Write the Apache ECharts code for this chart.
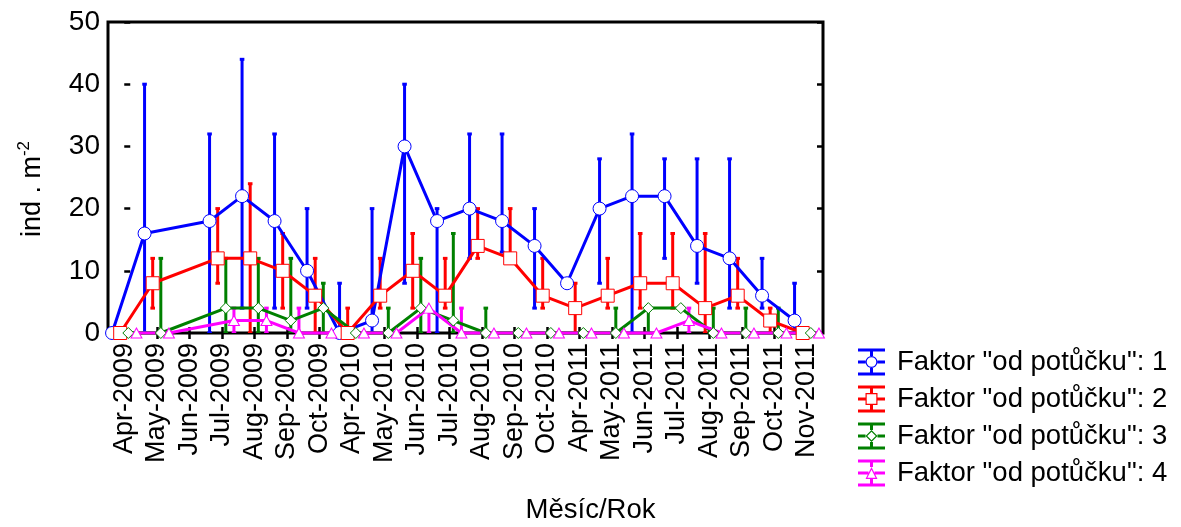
<!DOCTYPE html>
<html>
<head>
<meta charset="utf-8">
<script src="https://cdn.jsdelivr.net/npm/echarts@6/dist/echarts.min.js"></script>
<style>
  html, body { margin: 0; padding: 0; background: #ffffff; }
  #chart { width: 1181px; height: 527px; }
</style>
</head>
<body>
<div id="chart"></div>
<script>
// Sampling months (category axis)
const months = ['Apr-2009', 'May-2009', 'Jun-2009', 'Jul-2009', 'Aug-2009', 'Sep-2009', 'Oct-2009',
  'Apr-2010', 'May-2010', 'Jun-2010', 'Jul-2010', 'Aug-2010', 'Sep-2010', 'Oct-2010',
  'Apr-2011', 'May-2011', 'Jun-2011', 'Jul-2011', 'Aug-2011', 'Sep-2011', 'Oct-2011', 'Nov-2011'];

// Value axis range
const yMin = 0;
const yMax = 50;
const yStep = 10;

const factorNames = ['Faktor "od potůčku": 1', 'Faktor "od potůčku": 2',
  'Faktor "od potůčku": 3', 'Faktor "od potůčku": 4'];

// Factor level 1: point value and whisker ends (ind . m-2), null = no sample
const mean1 = [0, 16, null, 18, 22, 18, 10, 0, 2, 30, 18, 20, 18, 14, 8, 20, 22, 22, 14, 12, 6, 2];
const low1  = [0, 0, null, 0, 4, 4, 4, 0, 0, 8, 0, 12, 13, 4, 8, 8, 0, 12, 8, 4, 4, 0];
const high1 = [0, 40, null, 32, 44, 32, 20, 8, 20, 40, 20, 32, 32, 20, 8, 28, 32, 28, 28, 28, 12, 8];

// Factor level 2
const mean2 = [0, 8, null, 12, 12, 10, 6, 0, 6, 10, 6, 14, 12, 6, 4, 6, 8, 8, 4, 6, 2, 0];
const low2  = [0, 4, null, 8, 0, 4, 0, 0, 4, 4, 4, 12, 12, 4, 0, 4, 4, 4, 0, 4, 0, 0];
const high2 = [0, 12, null, 20, 24, 16, 12, 4, 12, 16, 12, 20, 20, 12, 8, 12, 16, 16, 16, 12, 4, 0];

// Factor level 3
const mean3 = [0, 0, null, 4, 4, 2, 4, 0, 0, 4, 2, 0, 0, 0, 0, 0, 4, 4, 0, 0, 0, 0];
const low3  = [0, 0, null, 0, 0, 0, 0, 0, 0, 0, 0, 0, 0, 0, 0, 0, 0, 4, 0, 0, 0, 0];
const high3 = [0, 12, null, 12, 12, 12, 8, 0, 4, 12, 16, 4, 0, 0, 0, 4, 4, 4, 4, 4, 4, 0];

// Factor level 4
const mean4 = [0, 0, null, 2, 2, 0, 0, 0, 0, 4, 0, 0, 0, 0, 0, 0, 0, 2, 0, 0, 0, 0];
const low4  = [0, 0, null, 0, 0, 0, 0, 0, 0, 0, 0, 0, 0, 0, 0, 0, 0, 0, 0, 0, 0, 0];
const high4 = [0, 0, null, 4, 4, 4, 0, 0, 0, 4, 4, 0, 0, 0, 0, 0, 0, 4, 0, 0, 0, 0];

const levels = [
  { mean: mean1, low: low1, high: high1 },
  { mean: mean2, low: low2, high: high2 },
  { mean: mean3, low: low3, high: high3 },
  { mean: mean4, low: low4, high: high4 }
];

const colors = ['#0000ff', '#ff0000', '#008000', '#ff00ff'];
const symbols = ['circle', 'rect', 'diamond', 'triangle'];
const symbolSizes = [13, 13, [11, 11], [11, 10]];
// horizontal shift of each factor level inside its month slot
const shifts = [-0.375, -0.125, 0.125, 0.375];

const FONT = '"Liberation Sans", Arial, Helvetica, sans-serif';

// ---- legend glyphs: whisker bar with caps and an open marker ----
function box(x, y, w, h) { return 'M' + x + ' ' + y + 'h' + w + 'v' + h + 'h' + (-w) + 'Z'; }
function hole(x, y, w, h) { return 'M' + x + ' ' + y + 'v' + h + 'h' + w + 'v' + (-h) + 'Z'; }
function legendGlyph(kind) {
  let p = box(0, 0, 27, 3) + box(0, 24, 27, 3);
  if (kind === 'circle') {
    p += box(12, 3, 3, 4.5) + box(12, 19.5, 3, 4.5) + box(0, 12, 7.5, 3) + box(19.5, 12, 7.5, 3);
    p += 'M7.5 13.5A6 6 0 1 1 19.5 13.5A6 6 0 1 1 7.5 13.5Z';
    p += 'M8.7 13.5A4.8 4.8 0 1 0 18.3 13.5A4.8 4.8 0 1 0 8.7 13.5Z';
  } else if (kind === 'rect') {
    p += box(12, 3, 3, 4.5) + box(12, 19.5, 3, 4.5) + box(0, 12, 7.5, 3) + box(19.5, 12, 7.5, 3);
    p += box(7.5, 7.5, 12, 12) + hole(8.7, 8.7, 9.6, 9.6);
  } else if (kind === 'diamond') {
    p += box(12, 3, 3, 4.5) + box(12, 19.5, 3, 4.5) + box(0, 12, 7.5, 3) + box(19.5, 12, 7.5, 3);
    p += 'M13.5 7.5L19.5 13.5L13.5 19.5L7.5 13.5Z';
    p += 'M13.5 9.2L9.2 13.5L13.5 17.8L17.8 13.5Z';
  } else {
    p += box(12, 3, 3, 4.5) + box(12, 19.5, 3, 4.5) + box(0, 12, 10.5, 3) + box(16.5, 12, 10.5, 3);
    p += 'M13.5 7.5L19.5 19.5L7.5 19.5Z';
    p += 'M13.5 10.2L9.4 18.3L17.6 18.3Z';
  }
  return 'path://' + p;
}

// ---- whisker renderer ----
function whiskerRenderer(color) {
  return function (params, api) {
    const x = api.value(0);
    const top = api.coord([x, api.value(2)]);
    const bot = api.coord([x, api.value(1)]);
    const cap = 2.3;
    const style = { stroke: color, lineWidth: 3 };
    return {
      type: 'group',
      children: [
        { type: 'line', shape: { x1: bot[0], y1: bot[1], x2: top[0], y2: top[1] }, style: style },
        { type: 'line', shape: { x1: top[0] - cap, y1: top[1], x2: top[0] + cap, y2: top[1] }, style: style },
        { type: 'line', shape: { x1: bot[0] - cap, y1: bot[1], x2: bot[0] + cap, y2: bot[1] }, style: style }
      ]
    };
  };
}

const series = [];
levels.forEach(function (lv, k) {
  const bars = [];
  lv.mean.forEach(function (m, i) {
    if (m === null) return;
    if (lv.high[i] > lv.low[i]) bars.push([i + shifts[k], lv.low[i], lv.high[i]]);
  });
  series.push({
    type: 'custom',
    name: factorNames[k],
    xAxisIndex: 2,
    yAxisIndex: 0,
    z: 2,
    silent: true,
    clip: true,
    renderItem: whiskerRenderer(colors[k]),
    encode: { x: 0, y: [1, 2] },
    data: bars
  });
});
levels.forEach(function (lv, k) {
  const pts = [];
  lv.mean.forEach(function (m, i) {
    if (m !== null) pts.push([i + shifts[k], m]);
  });
  series.push({
    type: 'line',
    name: factorNames[k],
    xAxisIndex: 2,
    yAxisIndex: 0,
    z: 3,
    silent: true,
    connectNulls: true,
    symbol: symbols[k],
    symbolSize: symbolSizes[k],
    showAllSymbol: true,
    clip: false,
    lineStyle: { color: colors[k], width: 3 },
    itemStyle: { color: '#ffffff', borderColor: colors[k], borderWidth: 1 },
    emphasis: { disabled: true },
    data: pts
  });
});

const tickStyle = { show: true, inside: true, length: 6, lineStyle: { color: '#000', width: 2.5 } };

const option = {
  animation: false,
  backgroundColor: '#ffffff',
  textStyle: { fontFamily: FONT },
  title: {
    text: 'Měsíc/Rok',
    left: 'center',
    top: 496,
    padding: 0,
    textStyle: { fontFamily: FONT, fontSize: 27.5, fontWeight: 'normal', color: '#000' }
  },
  grid: {
    left: 108, right: 358, top: 22, bottom: 194,
    show: true, borderColor: '#000', borderWidth: 3, backgroundColor: 'transparent',
    outerBoundsMode: 'none'
  },
  legend: {
    orient: 'vertical',
    left: 858,
    top: 348,
    padding: 0,
    itemWidth: 27,
    itemHeight: 27,
    itemGap: 9,
    selectedMode: false,
    textStyle: { fontFamily: FONT, fontSize: 27.5, color: '#000', padding: [0, 0, 0, 7] },
    data: factorNames.map(function (n, k) {
      return { name: n, icon: legendGlyph(symbols[k]), itemStyle: { color: colors[k], borderWidth: 0 } };
    })
  },
  xAxis: [
    {
      type: 'category',
      position: 'bottom',
      data: months,
      boundaryGap: true,
      axisLine: { show: false },
      axisTick: Object.assign({ alignWithLabel: true, interval: 0 }, tickStyle),
      axisLabel: { rotate: 90, interval: 0, margin: 10, fontSize: 27, color: '#000', fontFamily: FONT },
      splitLine: { show: false }
    },
    {
      type: 'category',
      position: 'top',
      data: months,
      boundaryGap: true,
      axisLine: { show: false },
      axisTick: Object.assign({ alignWithLabel: true, interval: 0 }, tickStyle),
      axisLabel: { show: false },
      splitLine: { show: false }
    },
    {
      type: 'value',
      min: -0.5,
      max: months.length - 0.5,
      show: false
    }
  ],
  yAxis: [
    {
      type: 'value',
      position: 'left',
      min: yMin, max: yMax, interval: yStep,
      name: '{b|ind . m}{s|-2}',
      nameLocation: 'middle',
      nameRotate: 90,
      nameGap: 62,
      nameTextStyle: {
        color: '#000',
        padding: [0, 23, 0, 0],
        rich: {
          b: { fontFamily: FONT, fontSize: 27, color: '#000', lineHeight: 30, verticalAlign: 'bottom' },
          s: { fontFamily: FONT, fontSize: 17, color: '#000', lineHeight: 17, verticalAlign: 'top' }
        }
      },
      axisLine: { show: false },
      axisTick: tickStyle,
      axisLabel: { margin: 8, fontSize: 28, color: '#000', fontFamily: FONT },
      splitLine: { show: false }
    },
    {
      type: 'value',
      position: 'right',
      min: yMin, max: yMax, interval: yStep,
      axisLine: { show: false },
      axisTick: tickStyle,
      axisLabel: { show: false },
      splitLine: { show: false }
    }
  ],
  series: series
};

const chart = echarts.init(document.getElementById('chart'), null, { renderer: 'canvas' });
chart.setOption(option);
</script>
</body>
</html>
